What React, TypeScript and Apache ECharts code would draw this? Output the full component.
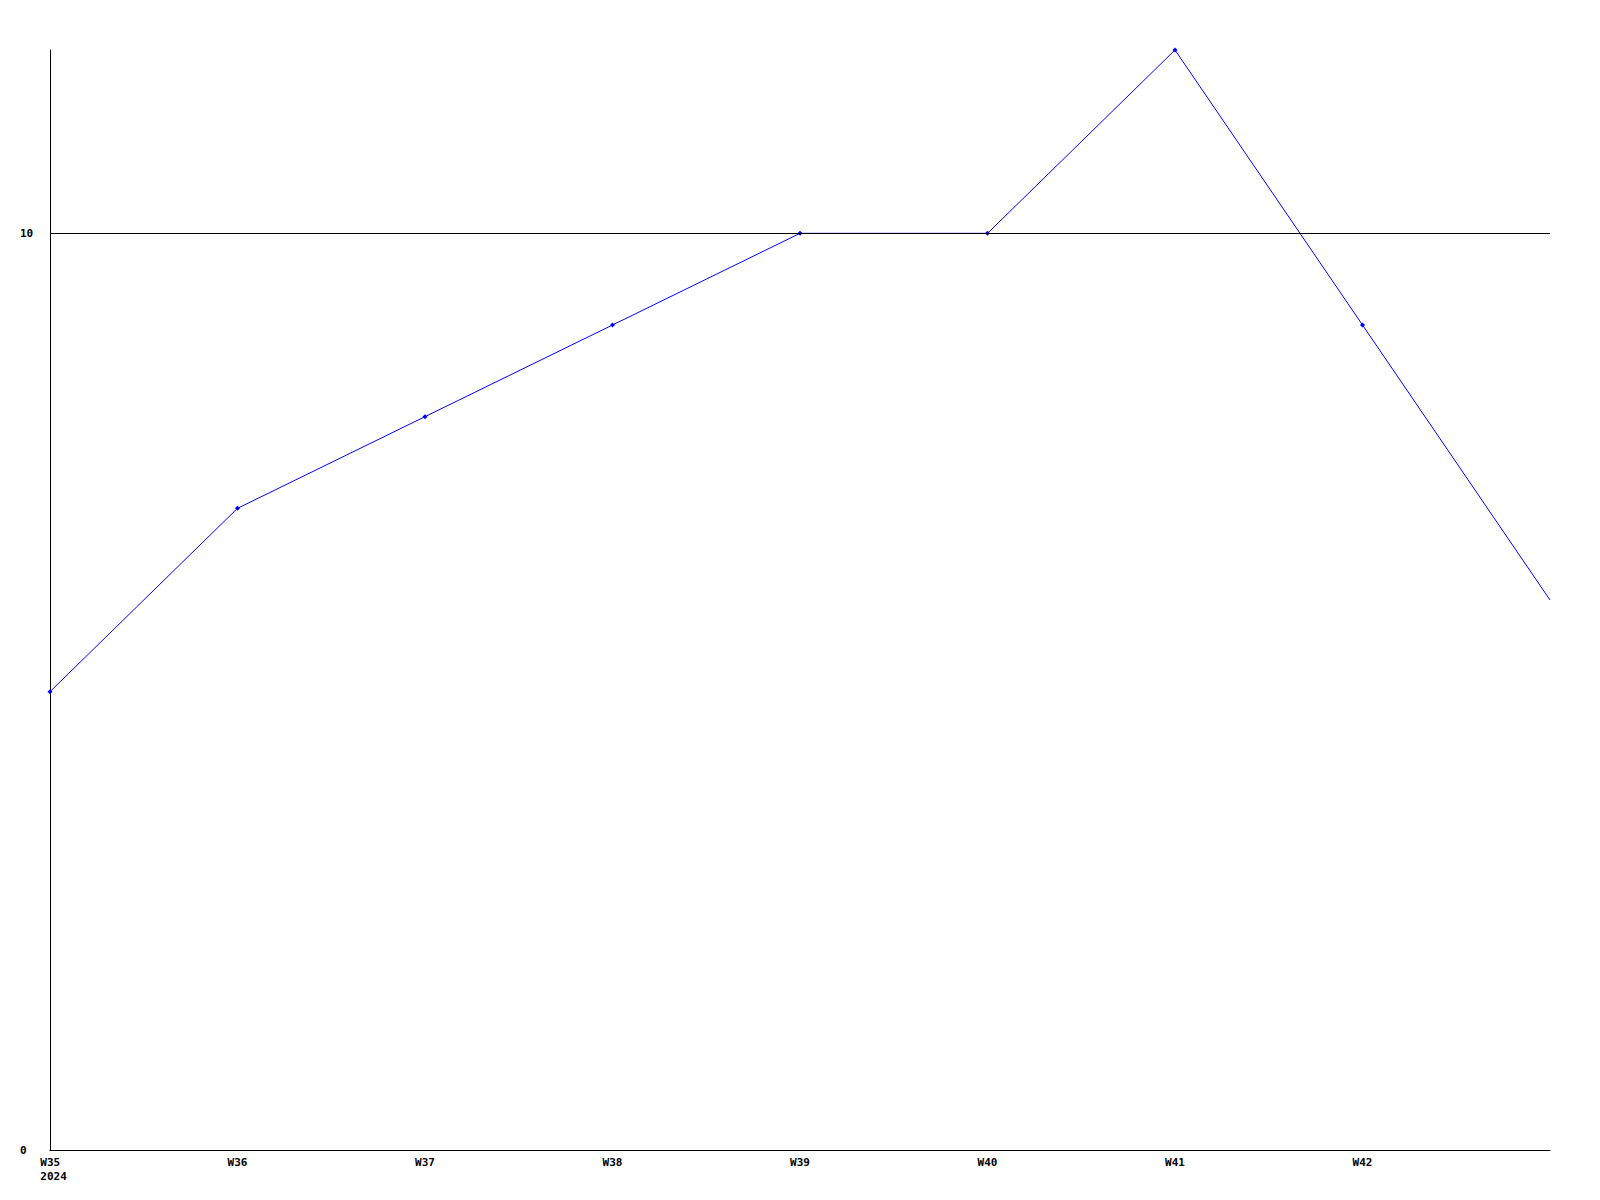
import React, { useEffect, useRef } from "react";
import * as echarts from "echarts";

const weeks = ["W35", "W36", "W37", "W38", "W39", "W40", "W41", "W42", "W43"];
const values = [5, 7, 8, 9, 10, 10, 12, 9, 6];
const yearLabel = "2024";
const thresholdValue = 10;

const FONT = "DejaVu Sans Mono";

export default function App() {
  const ref = useRef<HTMLDivElement>(null);

  useEffect(() => {
    document.body.style.margin = "0";
    const chart = echarts.init(ref.current!, null, { renderer: "svg" });
    const seriesData = values.map((v, i) =>
      i === values.length - 1 ? { value: v, symbol: "none" } : v
    );
    chart.setOption({
      animation: false,
      backgroundColor: "#ffffff",
      grid: { left: 50, right: 50, top: 50, bottom: 50, containLabel: false },
      xAxis: {
        type: "category",
        data: weeks,
        boundaryGap: false,
        axisLine: { show: true, lineStyle: { color: "#000000", width: 1 } },
        axisTick: { show: false },
        splitLine: { show: false },
        axisLabel: {
          show: true,
          showMaxLabel: false,
          interval: 0,
          margin: 5,
          color: "#000000",
          fontFamily: FONT,
          fontWeight: "bold",
          fontSize: 11,
          lineHeight: 14,
          formatter: (value: string, index: number) =>
            index === 0 ? `{f|${value}}\n{f|${yearLabel}}` : index === weeks.length - 1 ? "" : value,
          rich: {
            f: {
              fontFamily: FONT,
              fontWeight: "bold",
              fontSize: 11,
              lineHeight: 14,
              color: "#000000",
              align: "left",
              padding: [0, 0, 0, 7],
            },
          },
        },
      },
      yAxis: {
        type: "value",
        min: 0,
        max: 12,
        interval: 10,
        axisLine: { show: true, lineStyle: { color: "#000000", width: 1 } },
        axisTick: { show: false },
        splitLine: { show: false },
        axisLabel: {
          show: true,
          showMaxLabel: false,
          align: "left",
          margin: 30,
          color: "#000000",
          fontFamily: FONT,
          fontWeight: "bold",
          fontSize: 11,
        },
      },
      series: [
        {
          type: "line",
          data: seriesData,
          symbol: "diamond",
          symbolSize: 5,
          showSymbol: true,
          lineStyle: { color: "#0000ff", width: 1 },
          itemStyle: { color: "#0000ff" },
          markLine: {
            silent: true,
            symbol: "none",
            label: { show: false },
            lineStyle: { color: "#000000", width: 1, type: "solid" },
            emphasis: { disabled: true },
            data: [{ yAxis: thresholdValue }],
          },
        },
      ],
    });
    return () => chart.dispose();
  }, []);

  return <div ref={ref} style={{ width: 1600, height: 1200 }} />;
}
